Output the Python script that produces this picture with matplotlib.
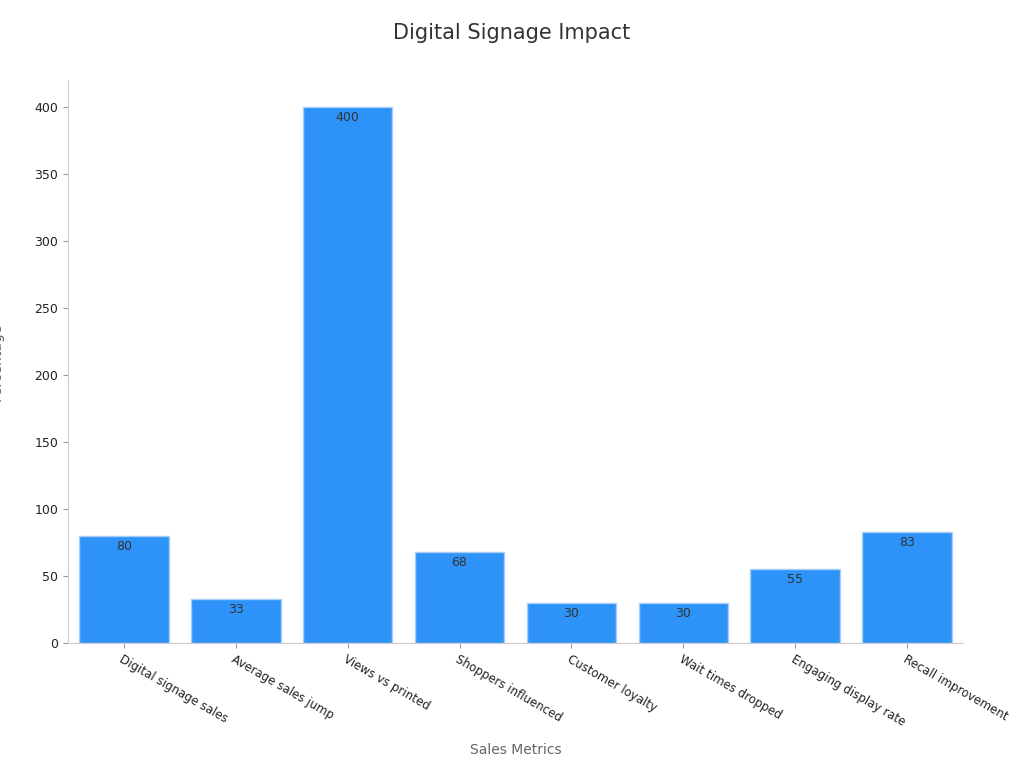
import matplotlib
matplotlib.use("Agg")
from matplotlib import pyplot as plt

categories = ["Digital signage sales", "Average sales jump", "Views vs printed",
              "Shoppers influenced", "Customer loyalty", "Wait times dropped",
              "Engaging display rate", "Recall improvement"]
values = [80, 33, 400, 68, 30, 30, 55, 83]

fig = plt.figure(figsize=(10.24, 7.68), dpi=100)
ax = fig.add_axes([68/1024, 1-643/768, (963-68)/1024, (643-80)/768])
x = range(len(categories))
ax.bar(x, values, width=0.8, color="#2d93f8", edgecolor="#a9cff5", linewidth=1)
for i, v in zip(x, values):
    ax.text(i, v - 3, str(v), ha="center", va="top", fontsize=9, color="#333333")

ax.set_xlim(-0.5, 7.5)
ax.set_ylim(0, 420)
ax.set_yticks(range(0, 401, 50))
ax.set_xticks(list(x))
ax.set_xticklabels(categories, rotation=-30, ha="left", rotation_mode="anchor", fontsize=8.5, color="#222222")
ax.tick_params(axis="y", labelsize=9, labelcolor="#222222", color="#999999")
ax.tick_params(axis="x", color="#999999")
for s in ["top", "right"]:
    ax.spines[s].set_visible(False)
for s in ["left", "bottom"]:
    ax.spines[s].set_color("#cccccc")
ax.set_ylabel("Percentage", fontsize=10, color="#666666", labelpad=22)
fig.text(516/1024, 1-750/768, "Sales Metrics", ha="center", va="center", fontsize=10, color="#666666")
fig.suptitle("Digital Signage Impact", y=1-33/768, va="center", fontsize=15, color="#333333")
fig.savefig("out.png", dpi=100)
